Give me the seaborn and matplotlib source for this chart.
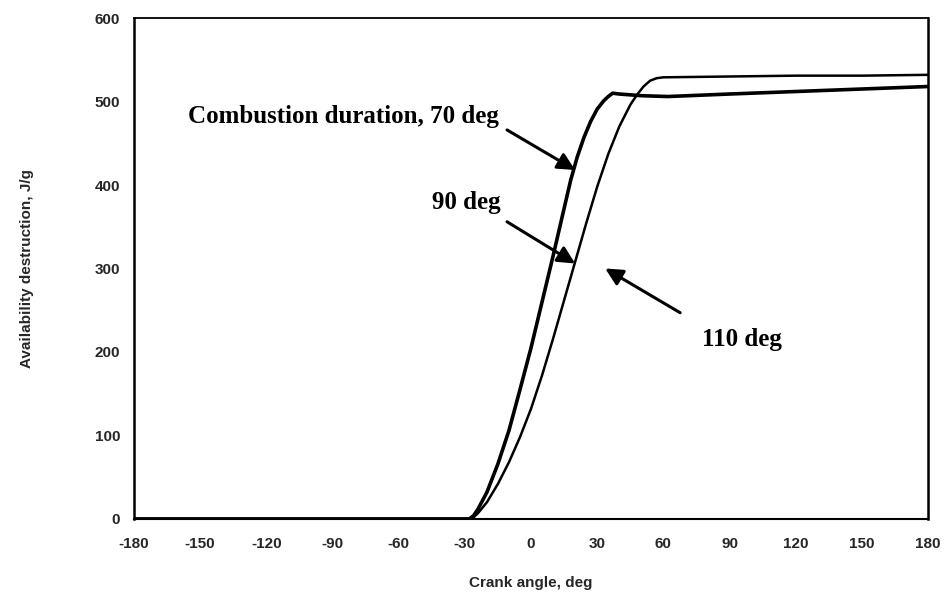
import matplotlib
matplotlib.use("Agg")
import matplotlib.pyplot as plt
import seaborn as sns
import pandas as pd

# Crank angle (deg) and cumulative availability destruction (J/g)
angle_70 = [-180, -28, -26, -24, -20, -15, -10, -5, 0, 5, 10, 15, 18, 21, 24, 27, 30, 33,
            35, 37, 40, 45, 50, 62, 90, 120, 150, 180]
destr_70 = [0, 0, 4, 12, 32, 66, 106, 155, 205, 260, 315, 372, 406, 434, 457, 476, 491, 501,
            506, 510, 509, 508, 507, 506, 509, 512, 515, 518]

angle_90 = [-180, -28, -26, -24, -20, -15, -10, -5, 0, 5, 10, 15, 20, 25, 30, 35, 40, 45,
            48, 51, 54, 57, 60, 90, 120, 150, 180]
destr_90 = [0, 0, 2, 7, 20, 42, 68, 98, 132, 172, 216, 262, 308, 354, 398, 437, 470, 496,
            508, 518, 525, 528, 529, 530, 531, 531, 532]

x_ticks = [-180, -150, -120, -90, -60, -30, 0, 30, 60, 90, 120, 150, 180]
y_ticks = [0, 100, 200, 300, 400, 500, 600]

# Annotation text, arrow tip and text anchor (data coordinates)
labels = ["Combustion duration, 70 deg", "90 deg", "110 deg"]
tips = [(20.0, 418), (20.0, 306), (33.6, 300)]
tails = [(-10.9, 466), (-10.9, 356), (67.6, 247)]
text_pos = [(-85.2, 482), (-29.5, 379), (95.7, 215)]

sns.set_style("white")
plt.rcParams["font.family"] = ["Liberation Sans", "DejaVu Sans"]

fig = plt.figure(figsize=(9.47, 6.02), dpi=100)
ax = fig.add_axes([0.1415, 0.138, 0.8385, 0.832])

df70 = pd.DataFrame({"angle": angle_70, "destruction": destr_70})
df90 = pd.DataFrame({"angle": angle_90, "destruction": destr_90})
sns.lineplot(data=df70, x="angle", y="destruction", ax=ax, color="black", lw=2.6)
sns.lineplot(data=df90, x="angle", y="destruction", ax=ax, color="black", lw=1.8)

ax.set_xlim(-180, 180)
ax.set_ylim(0, 600)
ax.set_xticks(x_ticks)
ax.set_yticks(y_ticks)
ax.set_xticklabels([str(t) for t in x_ticks], fontsize=11, fontweight="bold")
ax.set_yticklabels([str(t) for t in y_ticks], fontsize=11, fontweight="bold")
ax.tick_params(axis="both", direction="out", length=4, width=1.2, color="black")
ax.tick_params(axis="x", pad=9)
ax.tick_params(axis="y", pad=6)

for side in ["left", "right", "top", "bottom"]:
    ax.spines[side].set_color("black")
ax.spines["left"].set_linewidth(1.8)
ax.spines["right"].set_linewidth(1.8)
ax.spines["top"].set_linewidth(1.3)
ax.spines["bottom"].set_linewidth(1.5)

ax.set_xlabel("Crank angle, deg", fontsize=11, fontweight="bold", labelpad=18)
ax.set_ylabel("Availability destruction, J/g", fontsize=11, fontweight="bold", labelpad=44)

for txt, tip, tail, tp in zip(labels, tips, tails, text_pos):
    ax.annotate("", xy=tip, xytext=tail,
                arrowprops=dict(arrowstyle="-|>", color="black", lw=2.2,
                                mutation_scale=26, shrinkA=0, shrinkB=0))
    ax.text(tp[0], tp[1], txt, ha="center", va="center", fontsize=18, fontweight="bold",
            family=["Liberation Serif", "DejaVu Serif"], color="black")

fig.savefig("out.png", dpi=100)
